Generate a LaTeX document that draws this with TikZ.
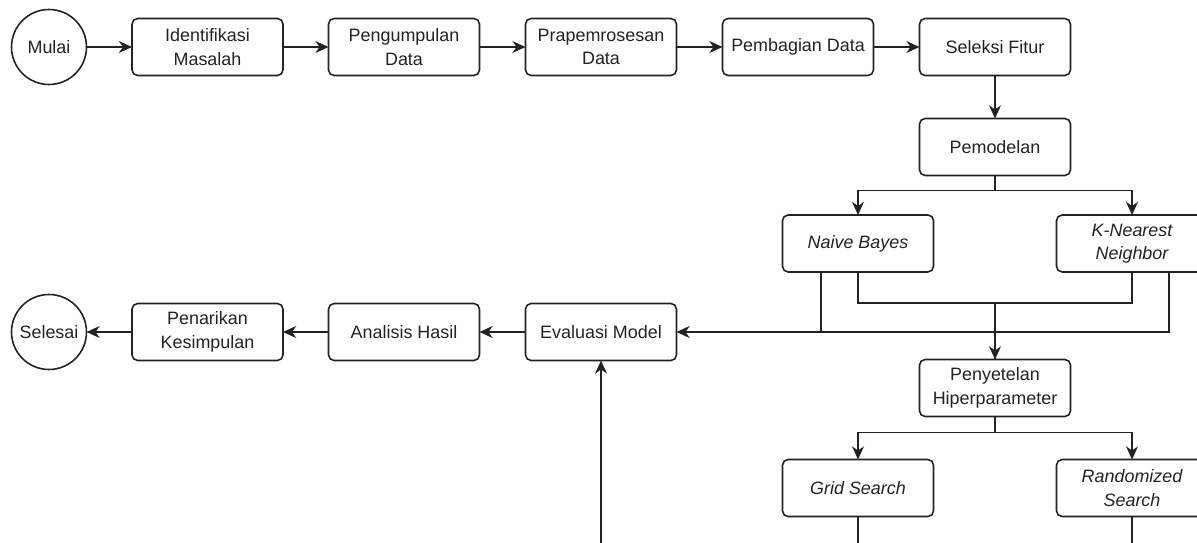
\documentclass[tikz,border=0pt]{standalone}
\usepackage{fontspec}
\setmainfont{Liberation Sans}
\usetikzlibrary{arrows.meta}
\definecolor{garis}{HTML}{222222}

\begin{document}
\begin{tikzpicture}[
    every node/.style={font=\fontsize{10.2pt}{13.4pt}\selectfont, text=garis},
    kotak/.style={draw=garis, line width=0.9pt, rounded corners=3.2pt, align=center,
      minimum width=3.02cm, minimum height=1.14cm, inner sep=1pt, outer sep=0pt},
    bulat/.style={draw=garis, line width=0.9pt, circle, minimum size=1.5cm, inner sep=0pt, outer sep=0pt},
    panah/.style={draw=garis, line width=0.9pt, -{Stealth[length=7.5pt, width=6.8pt, inset=2.4pt]}},
    garisan/.style={draw=garis, line width=0.9pt}]
  \useasboundingbox (0,0) rectangle (23.94,-10.86);
  \clip (0,0) rectangle (23.94,-10.86);

  \node[bulat] (mulai) at (0.98,-0.94) {Mulai};
  \node[kotak] (identifikasi) at (4.15,-0.94) {Identifikasi\\Masalah};
  \node[kotak] (pengumpulan) at (8.08,-0.94) {Pengumpulan\\Data};
  \node[kotak] (prapemrosesan) at (12.02,-0.94) {Prapemrosesan\\Data};
  \node[kotak] (pembagian) at (15.96,-0.94) {Pembagian Data};
  \node[kotak] (seleksi) at (19.90,-0.94) {Seleksi Fitur};
  \node[kotak] (pemodelan) at (19.90,-2.94) {Pemodelan};
  \node[kotak] (nb) at (17.16,-4.87) {\itshape Naive Bayes};
  \node[kotak] (knn) at (22.64,-4.87) {\itshape K-Nearest\\\itshape Neighbor};
  \node[kotak] (evaluasi) at (12.02,-6.64) {Evaluasi Model};
  \node[kotak] (analisis) at (8.08,-6.64) {Analisis Hasil};
  \node[kotak] (penarikan) at (4.15,-6.64) {Penarikan\\Kesimpulan};
  \node[bulat] (selesai) at (0.98,-6.64) {Selesai};
  \node[kotak] (penyetelan) at (19.90,-7.76) {Penyetelan\\Hiperparameter};
  \node[kotak] (grid) at (17.16,-9.76) {\itshape Grid Search};
  \node[kotak] (acak) at (22.64,-9.76) {\itshape Randomized\\\itshape Search};
  \coordinate (tepi) at (0,-11.3);

  \draw[panah] (mulai) -- (identifikasi);
  \draw[panah] (identifikasi) -- (pengumpulan);
  \draw[panah] (pengumpulan) -- (prapemrosesan);
  \draw[panah] (prapemrosesan) -- (pembagian);
  \draw[panah] (pembagian) -- (seleksi);
  \draw[panah] (seleksi) -- (pemodelan);

  \draw[panah] (pemodelan.south) -- ++(0,-0.3) -| (nb.north);
  \draw[panah] (pemodelan.south) -- ++(0,-0.3) -| (knn.north);

  \draw[garisan] ([xshift=-0.74cm]nb.south) -- ([xshift=-0.74cm]nb.south |- evaluasi.east);
  \draw[panah] ([xshift=0.74cm]knn.south) |- (evaluasi.east);
  \draw[panah] (nb.south) -- ++(0,-0.62) -| (penyetelan.north);
  \draw[garisan] (knn.south) -- ++(0,-0.62) -| (penyetelan.north);

  \draw[panah] (penyetelan.south) -- ++(0,-0.32) -| (grid.north);
  \draw[panah] (penyetelan.south) -- ++(0,-0.32) -| (acak.north);
  \draw[garisan] (grid.south) -- (grid.south |- tepi);
  \draw[garisan] (acak.south) -- (acak.south |- tepi);
  \draw[panah] (evaluasi.south |- tepi) -- (evaluasi.south);

  \draw[panah] (evaluasi) -- (analisis);
  \draw[panah] (analisis) -- (penarikan);
  \draw[panah] (penarikan) -- (selesai);
\end{tikzpicture}
\end{document}
